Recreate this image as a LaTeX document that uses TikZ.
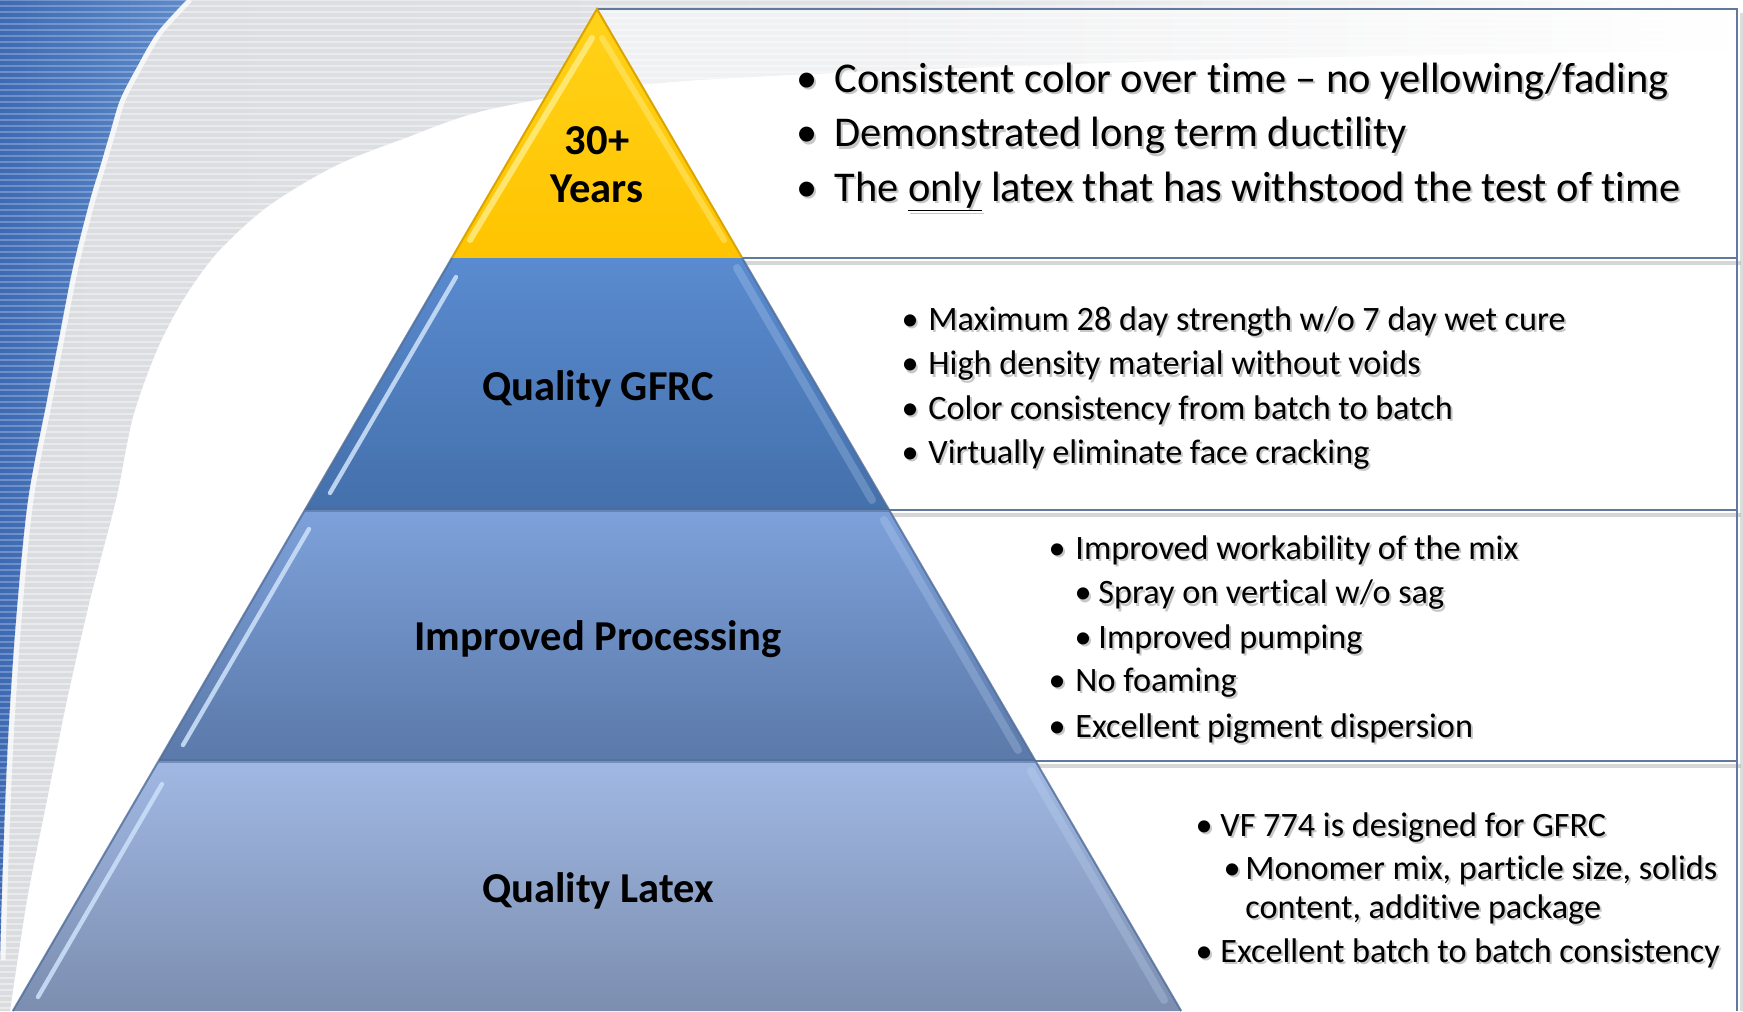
\documentclass[tikz,border=0pt]{standalone}
\usepackage{fontspec}
\setmainfont{Carlito}[Ligatures={NoCommon}]
\definecolor{bandgray}{HTML}{DADCE0}
\definecolor{blueL}{HTML}{3D6AB3}
\definecolor{blueR}{HTML}{5F8BCB}
\definecolor{boxblue}{HTML}{62799E}
\definecolor{yTop}{HTML}{FFD21A}
\definecolor{yBot}{HTML}{FFC400}
\definecolor{yEdge}{HTML}{DCA400}
\definecolor{yHi}{HTML}{FFEB80}
\definecolor{aTop}{HTML}{5A8BD0}
\definecolor{aBot}{HTML}{4470AB}
\definecolor{bTop}{HTML}{7DA1DA}
\definecolor{bBot}{HTML}{5B79A9}
\definecolor{cTop}{HTML}{A0B8E3}
\definecolor{cBot}{HTML}{7C8EB0}
\definecolor{tierEdge}{HTML}{4F6C98}
\definecolor{hiBlue}{HTML}{C9DEF7}
\tikzset{
  boxline/.style={draw=boxblue, line width=1.4pt},
  bigtxt/.style={font=\fontsize{21.2}{25}\selectfont, inner sep=0pt},
  smalltxt/.style={font=\fontsize{17.1}{20}\selectfont, inner sep=0pt},
  lbltxt/.style={font=\fontsize{21.3}{25}\selectfont\bfseries, inner sep=0pt, anchor=base},
  shadowtxt/.style={text=black!22},
  hiline/.style={line width=2.2pt, line cap=round, draw=hiBlue, opacity=0.9},
  tierline/.style={draw=tierEdge, line width=1pt, opacity=0.8},
  rightband/.style={draw=hiBlue, line width=4pt, opacity=0.25, line cap=round}
}
% name, bullet x, text x, baseline, style, text
\newcommand\bitem[6]{%
  \node[#5, shadowtxt, anchor=base] (#1bs) at (#2+2,#4+2.5) {•};
  \node[#5, shadowtxt, anchor=base west] (#1ts) at (#3+2,#4+2.5) {#6};
  \node[#5, anchor=base] (#1b) at (#2,#4) {•};
  \node[#5, anchor=base west] (#1t) at (#3,#4) {#6};}
\newcommand\citem[5]{%
  \node[#4, shadowtxt, anchor=base west] (#1ts) at (#2+2,#3+2.5) {#5};
  \node[#4, anchor=base west] (#1t) at (#2,#3) {#5};}
\begin{document}
\begin{tikzpicture}[x=0.5pt,y=-0.5pt]
\useasboundingbox (0,0) rectangle (1743,1011);
\fill[white] (0,0) rectangle (1743,1011);
% ---- gray swoosh band
\begin{scope}
\clip (187,0) -- (1743,0) -- (1743,50) -- plot[smooth] coordinates {(1743,50) (1200,60) (700,80) (500,107) (400,140) (333,167) (267,207) (217,253) (183,300) (157,350) (133,417) (116,500) (90,600) (67,700) (47,800) (27,900) (10,1011)} -- (0,1011) -- (0,960) -- plot[smooth] coordinates {(0,960) (3,860) (8,740) (16,620) (28,500) (47,400) (60,333) (73,267) (90,200) (100,167) (110,133) (120,100) (137,67) (157,33) (187,0)} -- cycle;
\shade[left color=bandgray, right color=white, middle color=bandgray!85] (0,0) rectangle (1743,1011);
\foreach \yy in {0,6,...,1010} \draw[white, line width=0.9pt, opacity=0.4] (0,\yy) -- (1743,\yy);
\end{scope}
% ---- blue swoosh
\begin{scope}
\clip (0,0) -- (187,0) -- plot[smooth] coordinates {(187,0) (157,33) (137,67) (120,100) (110,133) (100,167) (90,200) (73,267) (60,333) (47,400) (28,500) (16,620) (8,740) (3,860) (0,960)} -- cycle;
\shade[left color=blueL, right color=blueR] (0,0) rectangle (190,1011);
\foreach \yy in {0,6,...,1010} \draw[white, line width=0.9pt, opacity=0.25] (0,\yy) -- (190,\yy);
\end{scope}
\draw[white, opacity=0.7, line width=2.5pt] plot[smooth] coordinates {(190,0) (160,33) (140,67) (123,100) (113,133) (103,167) (93,200) (76,267) (63,333) (50,400) (31,500) (19,620) (11,740) (6,860) (3,960)};
% ---- text boxes
\fill[white, opacity=0.55] (597,9) rectangle (1737,258);
\fill[white] (597,258) rectangle (1737,1011);
\foreach \yy in {258,510,761} \draw[black!35, opacity=0.45, line width=2pt] (597,\yy+4.5) -- (1741,\yy+4.5);
\draw[black!30, opacity=0.45, line width=2pt] (1741.5,13) -- (1741.5,1011);
\draw[boxline] (597,9) -- (1737,9) -- (1737,1011);
\foreach \yy in {258,510,761} \draw[boxline] (597,\yy) -- (1737,\yy);
% ---- pyramid tiers
\shade[top color=yTop, bottom color=yBot] (597,9) -- (742.2,258) -- (451.8,258) -- cycle;
\draw[draw=yEdge, line width=1pt] (451.8,258) -- (597,9) -- (742.2,258);
\draw[draw=yHi, line width=3pt, line cap=round, opacity=0.85] (592,38) -- (470,240);
\draw[draw=yHi, line width=3pt, line cap=round, opacity=0.5] (602,38) -- (724,240);
\shade[top color=aTop, bottom color=aBot] (451.8,258) -- (742.2,258) -- (889.1,510) -- (304.9,510) -- cycle;
\shade[top color=bTop, bottom color=bBot] (304.9,510) -- (889.1,510) -- (1035.4,761) -- (158.6,761) -- cycle;
\shade[top color=cTop, bottom color=cBot] (158.6,761) -- (1035.4,761) -- (1181.2,1011) -- (12.8,1011) -- cycle;
\draw[tierline] (451.8,258) -- (12.8,1011);
\draw[tierline] (742.2,258) -- (1181.2,1011);
\draw[tierline, line width=1.6pt, opacity=0.55] (304.9,510) -- (889.1,510);
\draw[tierline, line width=1.6pt, opacity=0.55] (158.6,761) -- (1035.4,761);
% bevel highlights
\draw[hiline] (456,277) -- (330,493);
\draw[hiline] (309,529) -- (183,745);
\draw[hiline] (162,784) -- (38,997);
\draw[rightband] (737,268) -- (872,500);
\draw[rightband] (884,520) -- (1018,750);
\draw[rightband] (1031,771) -- (1164,1000);
% ---- tier labels
\node[lbltxt] (l30) at (597,155) {30+};
\node[lbltxt] (lyears) at (597,202) {Years};
\node[lbltxt] (lgfrc) at (598,400) {Quality GFRC};
\node[lbltxt] (lproc) at (598,650) {Improved Processing};
\node[lbltxt] (llatex) at (598,902) {Quality Latex};
% ---- box 1
\bitem{a1}{807}{834}{92.5}{bigtxt}{Consistent color over time – no yellowing/fading}
\bitem{a2}{807}{834}{146.5}{bigtxt}{Demonstrated long term ductility}
\bitem{a3}{807}{834}{201}{bigtxt}{The \underline{only} latex that has withstood the test of time}
% ---- box 2
\bitem{b1}{910}{928}{330}{smalltxt}{Maximum 28 day strength w/o 7 day wet cure}
\bitem{b2}{910}{928}{374.5}{smalltxt}{High density material without voids}
\bitem{b3}{910}{928}{419}{smalltxt}{Color consistency from batch to batch}
\bitem{b4}{910}{928}{463}{smalltxt}{Virtually eliminate face cracking}
% ---- box 3
\bitem{c1}{1057}{1075}{559}{smalltxt}{Improved workability of the mix}
\bitem{c2}{1083}{1098}{603.5}{smalltxt}{Spray on vertical w/o sag}
\bitem{c3}{1083}{1098}{648}{smalltxt}{Improved pumping}
\bitem{c4}{1057}{1075}{691}{smalltxt}{No foaming}
\bitem{c5}{1057}{1075}{737}{smalltxt}{Excellent pigment dispersion}
% ---- box 4
\bitem{d1}{1204}{1220}{836}{smalltxt}{VF 774 is designed for GFRC}
\bitem{d2}{1232}{1245}{879}{smalltxt}{Monomer mix, particle size, solids}
\citem{d3}{1245}{918}{smalltxt}{content, additive package}
\bitem{d4}{1204}{1220}{962}{smalltxt}{Excellent batch to batch consistency}
\end{tikzpicture}
\end{document}
